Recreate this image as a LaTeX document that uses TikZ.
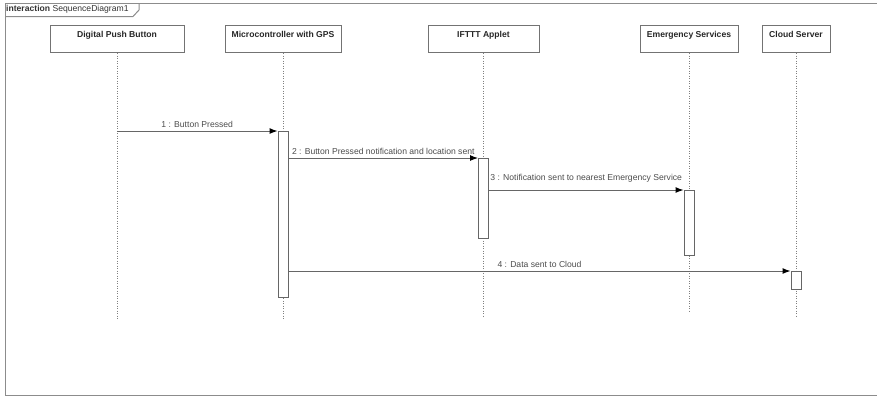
\documentclass[tikz,border=0pt]{standalone}
\usepackage{fontspec}
\setmainfont{Liberation Sans}
\usetikzlibrary{positioning}
\usetikzlibrary{arrows.meta}

\tikzset{
    head/.style={rectangle, draw=black!55, line width=1pt, minimum width=#1, text height=7pt, text depth=10pt, inner ysep=5pt, anchor=north, font=\fontsize{8.6}{10}\selectfont\bfseries, text=black!85},
    life/.style={draw=black!50, line width=0.7pt, dash pattern=on 1pt off 1.5pt},
    act/.style={rectangle, draw=black!60, line width=1pt, fill=white, minimum width=10pt, minimum height=#1, inner sep=0pt, anchor=north},
    msg/.style={draw=black!60, line width=1pt, -{Latex[length=8pt,width=6pt,fill=black,color=black]}},
    lbl/.style={text=black!70, above}
}

\begin{document}
\begin{tikzpicture}[x=1pt, y=-1pt, font=\fontsize{8.6}{10}\selectfont]
    \useasboundingbox (0,0) rectangle (877,397);
    \draw[draw=black!45, line width=1pt] (880,3) -- (5,3) -- (5,395) -- (880,395);
    \draw[draw=black!45, line width=1pt] (5,16.5) -- (133,16.5) -- (139,10) -- (139,3);
    \path node (tab) at (6,9.5) [anchor=west, inner sep=0pt, text=black!80] {\textbf{interaction} SequenceDiagram1};
    \path
        node (btn) at (117,25) [head=134pt] {Digital Push Button}
        node (mcu) at (283,25) [head=116pt] {Microcontroller with GPS}
        node (ifttt) at (483.5,25) [head=111pt] {IFTTT Applet}
        node (emg) at (689,25) [head=98pt] {Emergency Services}
        node (cloud) at (796,25) [head=68pt] {Cloud Server};
    \draw[life] (btn.south) -- (btn.south |- 0,320);
    \draw[life] (mcu.south) -- (mcu.south |- 0,320);
    \draw[life] (ifttt.south) -- (ifttt.south |- 0,318);
    \draw[life] (emg.south) -- (emg.south |- 0,312);
    \draw[life] (cloud.south) -- (cloud.south |- 0,318);
    \path
        node (mcuAct) at (mcu.south |- 0,131) [act=166pt] {}
        node (iftttAct) at (ifttt.south |- 0,158) [act=80pt] {}
        node (emgAct) at (emg.south |- 0,190) [act=65pt] {}
        node (cloudAct) at (cloud.south |- 0,271) [act=18pt] {};
    \draw[msg] (btn.south |- mcuAct.north) -- node[lbl] (m1) {1 : Button Pressed} (mcuAct.north west);
    \draw[msg] (mcuAct.east |- iftttAct.north) -- node[lbl] (m2) {2 : Button Pressed notification and location sent} (iftttAct.north west);
    \draw[msg] (iftttAct.east |- emgAct.north) -- node[lbl, above=4pt] (m3) {3 : Notification sent to nearest Emergency Service} (emgAct.north west);
    \draw[msg] (mcuAct.east |- cloudAct.north) -- node[lbl] (m4) {4 : Data sent to Cloud} (cloudAct.north west);
\end{tikzpicture}
\end{document}
